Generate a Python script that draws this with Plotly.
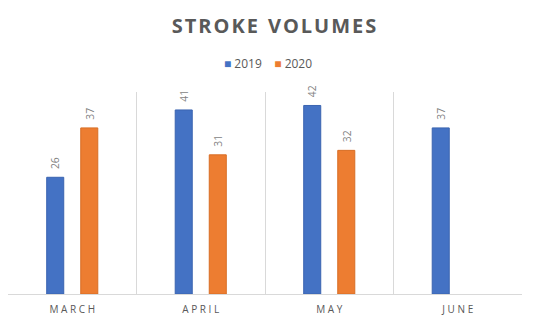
import plotly.graph_objects as go

months = ["MARCH", "APRIL", "MAY", "JUNE"]
vals_2019 = [26, 41, 42, 37]
vals_2020 = [37, 31, 32, None]
series_names = ["2019", "2020"]
colors = ["#4472C4", "#ED7D31"]

def spaced(s, sep="\u2009"):
    return sep.join(list(s))

labels = [spaced(m, " ") for m in months]

fig = go.Figure()
for name, vals, col, edge in zip(series_names, [vals_2019, vals_2020], colors, ["#3A64B0", "#D86E25"]):
    fig.add_bar(name=name, x=labels, y=vals, marker_color=col,
                marker_line=dict(color=edge, width=1), showlegend=False,
                text=[("" if v is None else "\u2002" + str(v)) for v in vals],
                textposition="outside", textangle=-90,
                textfont=dict(color="#7F7F7F", size=11, family="Open Sans"), cliponaxis=False)

legend_text = "    ".join(
    f"<span style='color:{c}'>■</span> {n}" for n, c in zip(series_names, colors)
)

# page body has an 8px default margin, so the figure is offset by (8, 8)
fig.update_layout(
    width=536, height=323,
    margin=dict(l=0, r=22, t=84, b=37, autoexpand=False),
    paper_bgcolor="white", plot_bgcolor="white",
    bargap=0.47, bargroupgap=0.5,
    font=dict(family="Open Sans", color="#595959"),
    title=dict(text=spaced("STROKE", "\u200a") + "\u2002" + spaced("VOLUMES", "\u200a"),
               x=266/536, xref="container", xanchor="center",
               y=1 - 18/323, yanchor="middle",
               font=dict(size=20, color="#595959", family="Open Sans", weight="bold")),
    annotations=[dict(text=legend_text, x=260/514, xref="paper", xanchor="center",
                      y=1 + 29/202, yref="paper", yanchor="middle", showarrow=False,
                      font=dict(size=12, color="#595959"))],
    xaxis=dict(showgrid=True, tickson="boundaries", gridcolor="#D9D9D9", gridwidth=1,
               range=[-0.5, 3.5], automargin=False, ticklabelstandoff=6,
               showline=True, linecolor="#D9D9D9", linewidth=1, ticks="",
               tickfont=dict(size=10, color="#595959"), mirror=False),
    yaxis=dict(range=[0, 45], visible=False, showgrid=False, zeroline=False, automargin=False),
)

fig.write_html("out.html")
